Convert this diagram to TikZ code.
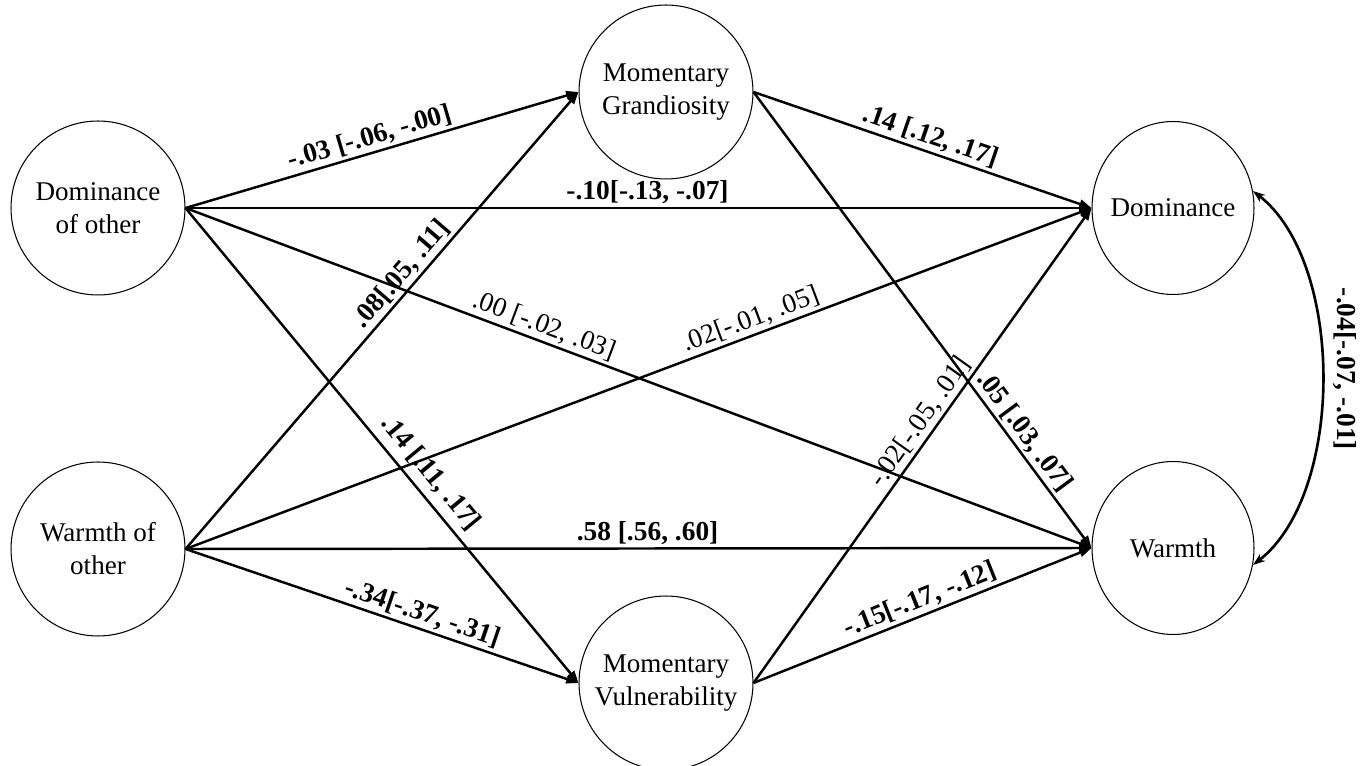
\documentclass[tikz,border=0pt]{standalone}
\usepackage{fontspec}
\setmainfont{Liberation Serif}
\usetikzlibrary{arrows.meta,shapes.geometric}
\begin{document}
\begin{tikzpicture}[x=0.02cm,y=-0.02cm,
  nodefont/.style={font=\fontsize{15.4}{18.7}\selectfont},
  var/.style={draw, line width=0.6pt, circle, minimum size=3.48cm, inner sep=0pt, align=center, nodefont},
  outvar/.style={draw, line width=0.6pt, ellipse, minimum width=3.24cm, minimum height=3.46cm, inner sep=0pt, align=center, nodefont},
  edgearrow/.style={line width=1.4pt, -{Triangle[length=7pt,width=5pt]}},
  lab/.style={font=\bfseries\fontsize{15.6}{18}\selectfont, sloped, above, inner sep=1.5pt},
  labn/.style={font=\fontsize{15.6}{18}\selectfont, sloped, above, inner sep=1.5pt}
]
\useasboundingbox (0,0) rectangle (1370,766);

\node[var] (DO) at (98,208) {Dominance\\of other};
\node[var] (WO) at (98,549) {Warmth of\\other};
\node[var] (MG) at (666,92) {Momentary\\Grandiosity};
\node[var] (MV) at (666,683) {Momentary\\Vulnerability};
\node[outvar] (D) at (1173,208) {\makebox[0pt]{Dominance}};
\node[outvar] (W) at (1173,548) {\makebox[0pt]{Warmth}};

% from Dominance of other
\draw[edgearrow] (DO.east) -- node[lab, pos=0.48] (l1) {-.03 [-.06, -.00]} (MG.west);
\draw[edgearrow] (DO.east) -- node[lab, pos=0.51] (l2) {-.10[-.13, -.07]} (D.west);
\draw[edgearrow] (DO.east) -- node[labn, pos=0.39] (l3) {.00 [-.02, .03]} (W.west);
\draw[edgearrow] (DO.east) -- node[lab, pos=0.585, inner sep=4pt] (l4) {.14 [.11, .17]} (MV.west);

% from Warmth of other
\draw[edgearrow] (WO.east) -- node[lab, pos=0.58] (l5) {.08[.05, .11]} (MG.west);
\draw[edgearrow] (WO.east) -- node[labn, pos=0.63] (l6) {.02[-.01, .05]} (D.west);
\draw[edgearrow] (WO.east) -- node[lab, pos=0.51] (l7) {.58 [.56, .60]} (W.west);
\draw[edgearrow] (WO.east) -- node[lab, pos=0.59] (l8) {-.34[-.37, -.31]} (MV.west);

% from mediators
\draw[edgearrow] (MG.east) -- node[lab, pos=0.51] (l9) {.14 [.12, .17]} (D.west);
\draw[edgearrow] (MG.east) -- node[lab, pos=0.765] (l10) {.05 [.03, .07]} (W.west);
\draw[edgearrow] (MV.east) -- node[labn, pos=0.53] (l11) {-.02[-.05, .01]} (D.west);
\draw[edgearrow] (MV.east) -- node[lab, pos=0.51] (l12) {-.15[-.17, -.12]} (W.west);

% covariance
\draw[line width=1.5pt, {Stealth[length=7pt,width=5pt]}-{Stealth[length=7pt,width=5pt]}]
  (D.12) .. controls (1345,262) and (1345,494) .. (W.-12);
\node[font=\bfseries\fontsize{15.6}{18}\selectfont, rotate=-90] (l13) at (1345,369) {-.04[-.07, -.01]};
\end{tikzpicture}
\end{document}
